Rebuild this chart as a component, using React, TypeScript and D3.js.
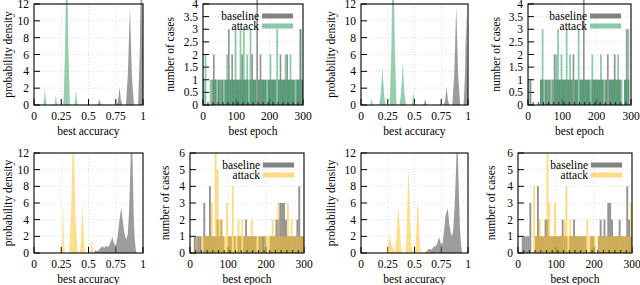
import * as d3 from "d3";

// ---- tick values ----
const ACC_TICKS = [0, 0.25, 0.5, 0.75, 1];
const DENSITY_TICKS = [0, 2, 4, 6, 8, 10, 12];
const EPOCH_TICKS = [0, 100, 200, 300];
const EPOCH_MINOR = [15, 30, 45, 60, 75, 90, 105, 120, 135, 150, 165, 180, 195, 210, 225, 240, 255, 270, 285];
const CASES_TICKS_TOP = [0, 0.5, 1, 1.5, 2, 2.5, 3, 3.5, 4];
const CASES_TICKS_BOTTOM = [0, 1, 2, 3, 4, 5, 6];
const SERIES = ["baseline", "attack"];
const BIN = 5; // epochs per histogram bin, bins start at 0, 5, 10, ... 295

// ---- density curves [accuracy, density] ----
const accBaselineA = [
  [0.58, 0], [0.59, 0.21], [0.6, 0.7], [0.61, 0.21], [0.62, 0],
  [0.76, 0], [0.772, 0.63], [0.785, 2.1], [0.797, 0.63], [0.81, 0],
  [0.843, 0], [0.861, 3.5], [0.88, 11.6], [0.898, 3.5], [0.917, 0],
  [0.955, 0], [0.97, 6], [0.985, 20], [1, 6], [1, 0],
];
const accAttackA = [
  [0.084, 0], [0.092, 0.6], [0.1, 2], [0.108, 0.6], [0.116, 0],
  [0.186, 0], [0.193, 0.33], [0.2, 1.1], [0.207, 0.33], [0.214, 0],
  [0.27, 0], [0.285, 6.6], [0.3, 22], [0.315, 6.6], [0.33, 0],
  [0.369, 0], [0.377, 0.54], [0.385, 1.8], [0.393, 0.54], [0.401, 0],
];
const accBaselineB = [
  [0.58, 0], [0.59, 0.21], [0.6, 0.7], [0.61, 0.21], [0.62, 0],
  [0.775, 0], [0.787, 0.63], [0.8, 2.1], [0.812, 0.63], [0.825, 0],
  [0.853, 0], [0.871, 3.5], [0.89, 11.7], [0.908, 3.5], [0.927, 0],
  [0.959, 0], [0.971, 3.3], [0.984, 11], [0.996, 3.3], [1, 1.5], [1, 0],
];
const accAttackB = [
  [0.086, 0], [0.093, 0.24], [0.1, 0.8], [0.107, 0.24], [0.114, 0],
  [0.17, 0], [0.185, 1.35], [0.2, 4.5], [0.215, 1.35], [0.23, 0],
  [0.268, 0], [0.284, 6.6], [0.3, 22], [0.316, 6.6], [0.332, 0],
  [0.36, 0], [0.375, 1.5], [0.39, 5], [0.405, 1.5], [0.42, 0],
  [0.47, 0], [0.48, 0.42], [0.49, 1.4], [0.5, 0.42], [0.51, 0],
];
const accBaselineC = [
  [0.55, 0], [0.565, 0.4], [0.575, 0.2], [0.59, 0.3], [0.61, 0.6], [0.63, 0.8], [0.645, 0.6],
  [0.66, 0.9], [0.675, 0.7], [0.69, 0.9], [0.705, 1.4], [0.72, 1.9], [0.735, 1.1], [0.75, 0.9],
  [0.765, 1.8], [0.78, 3.5], [0.8, 5.5], [0.815, 3.8], [0.83, 2.4], [0.845, 1.6], [0.86, 2.2],
  [0.872, 5], [0.884, 10], [0.895, 16], [0.906, 10], [0.916, 4], [0.925, 1.5], [0.935, 0.3], [0.94, 0],
];
const accAttackC = [
  [0.254, 0], [0.261, 1.74], [0.268, 5.8], [0.275, 1.74], [0.282, 0],
  [0.32, 0], [0.34, 4.8], [0.36, 16], [0.38, 4.8], [0.4, 0],
  [0.42, 0], [0.432, 1.77], [0.445, 5.9], [0.457, 1.77], [0.47, 0],
  [0.514, 0], [0.522, 0.57], [0.53, 1.9], [0.538, 0.57], [0.546, 0],
];
const accBaselineD = [
  [0.6, 0], [0.62, 0.3], [0.64, 0.5], [0.66, 0.4], [0.675, 0.7], [0.69, 0.8], [0.705, 0.9],
  [0.72, 1.5], [0.73, 1.9], [0.745, 1.2], [0.76, 1.0], [0.775, 2.5], [0.79, 4.5], [0.81, 5.4],
  [0.825, 3.5], [0.845, 2], [0.86, 2.5], [0.875, 5.5], [0.888, 10], [0.9, 15], [0.911, 9],
  [0.925, 3], [0.935, 1], [0.945, 0],
];
const accAttackD = [
  [0.24, 0], [0.25, 0.8], [0.26, 1.6], [0.268, 2], [0.28, 1.3], [0.29, 0.8], [0.3, 0.6], [0.315, 0.3],
  [0.325, 1.2], [0.335, 3], [0.35, 5.6], [0.362, 3], [0.372, 0.9], [0.382, 0.2], [0.39, 0],
  [0.415, 0], [0.425, 2.4], [0.435, 6.4], [0.445, 10.3], [0.455, 6.4], [0.465, 2.4], [0.475, 0.5], [0.49, 0],
  [0.505, 0], [0.515, 2], [0.524, 4.8], [0.532, 6.2], [0.54, 4], [0.55, 1], [0.56, 0],
  [0.6, 0], [0.615, 0.4], [0.62, 0.5], [0.63, 0.2], [0.64, 0],
];

// ---- epoch histograms: counts per 5-epoch bin (60 bins, 0..295) ----
const epochBaselineA = [
  0, 0, 0, 0, 0, 1, 2, 1, 0, 1, 1, 1, 0, 1, 1, 3, 1, 2, 1, 1,
  1, 1, 1, 2, 1, 1, 1, 0, 1, 2, 1, 1, 5, 1, 2, 1, 1, 1, 0, 1,
  1, 1, 1, 1, 0, 1, 2, 1, 1, 1, 2, 1, 1, 1, 1, 0, 1, 1, 3, 1,
];
const epochAttackA = [
  1, 2, 0, 0, 1, 0, 1, 1, 1, 1, 0, 1, 1, 1, 2, 1, 1, 1, 1, 3,
  1, 1, 3, 1, 3, 1, 2, 1, 3, 1, 1, 1, 0, 1, 1, 1, 1, 1, 1, 1,
  2, 1, 1, 1, 3, 1, 1, 1, 1, 2, 1, 1, 2, 1, 1, 1, 1, 1, 3, 1,
];
const epochBaselineB = [
  0, 1, 0, 0, 0, 0, 0, 1, 1, 0, 1, 1, 1, 0, 1, 2, 1, 1, 1, 1,
  1, 1, 1, 1, 1, 1, 2, 1, 1, 0, 1, 1, 5, 1, 1, 1, 0, 1, 1, 1,
  1, 1, 1, 1, 0, 1, 2, 1, 1, 1, 2, 1, 1, 1, 0, 0, 1, 3, 1, 0,
];
const epochAttackB = [
  1, 0, 0, 0, 0, 0, 0, 1, 3, 1, 1, 0, 1, 1, 0, 1, 2, 3, 1, 2,
  1, 1, 3, 1, 2, 1, 0, 1, 1, 3, 1, 1, 1, 1, 1, 1, 1, 2, 1, 1,
  1, 1, 2, 1, 1, 1, 0, 1, 1, 1, 1, 1, 2, 1, 1, 0, 1, 1, 3, 0,
];
const epochBaselineC = [
  0, 0, 1, 1, 1, 1, 0, 3, 1, 1, 4, 1, 1, 1, 2, 1, 2, 1, 0, 0,
  1, 1, 0, 1, 0, 1, 1, 0, 1, 2, 1, 1, 1, 1, 1, 0, 1, 1, 1, 1,
  0, 0, 1, 1, 1, 2, 2, 3, 3, 3, 2, 1, 1, 1, 1, 1, 2, 4, 1, 1,
];
const epochAttackC = [
  0, 0, 0, 1, 0, 0, 1, 1, 1, 1, 1, 3, 1, 6, 5, 2, 2, 1, 1, 3,
  1, 1, 4, 1, 1, 2, 1, 2, 1, 1, 1, 1, 2, 1, 1, 1, 1, 1, 0, 1,
  1, 1, 1, 2, 1, 1, 3, 1, 1, 1, 1, 3, 1, 2, 1, 1, 1, 1, 1, 1,
];
const epochBaselineD = [
  0, 0, 1, 1, 1, 1, 3, 0, 0, 1, 4, 1, 1, 1, 2, 2, 1, 1, 1, 1,
  1, 1, 1, 2, 1, 1, 0, 1, 1, 2, 1, 1, 1, 1, 1, 1, 0, 0, 1, 1,
  0, 0, 1, 2, 1, 2, 1, 3, 3, 2, 1, 1, 1, 2, 1, 1, 1, 4, 2, 1,
];
const epochAttackD = [
  0, 0, 0, 0, 0, 0, 0, 0, 4, 1, 1, 2, 1, 1, 1, 6, 3, 1, 1, 3,
  1, 1, 1, 1, 2, 4, 1, 2, 1, 1, 1, 1, 1, 1, 1, 1, 2, 1, 1, 1,
  1, 0, 1, 1, 1, 1, 1, 1, 1, 1, 1, 1, 1, 1, 1, 1, 1, 1, 1, 3,
];

const GRAY = "#5a5a5a";
const GREEN = "#2a9d5c";
const YELLOW = "#ffbf1f";
const FONT = "'Liberation Serif', 'Times New Roman', serif";
const FS = 11.5;

type Frame = { x0: number; x1: number; y0: number; y1: number; titleX: number };

const PANELS = [
  { kind: "acc", f: { x0: 34, x1: 143, y0: 4, y1: 105, titleX: 8 }, base: accBaselineA, att: accAttackA, color: GREEN },
  { kind: "epoch", f: { x0: 203, x1: 303, y0: 4, y1: 105, titleX: 170 }, base: epochBaselineA, att: epochAttackA, color: GREEN },
  { kind: "acc", f: { x0: 361, x1: 468, y0: 4, y1: 105, titleX: 331 }, base: accBaselineB, att: accAttackB, color: GREEN },
  { kind: "epoch", f: { x0: 528, x1: 631, y0: 4, y1: 105, titleX: 496 }, base: epochBaselineB, att: epochAttackB, color: GREEN },
  { kind: "acc", f: { x0: 34, x1: 143, y0: 153, y1: 253, titleX: 8 }, base: accBaselineC, att: accAttackC, color: YELLOW },
  { kind: "epoch", f: { x0: 190, x1: 304, y0: 153, y1: 253, titleX: 165 }, base: epochBaselineC, att: epochAttackC, color: YELLOW },
  { kind: "acc", f: { x0: 361, x1: 468, y0: 153, y1: 253, titleX: 331 }, base: accBaselineD, att: accAttackD, color: YELLOW },
  { kind: "epoch", f: { x0: 518, x1: 632, y0: 153, y1: 253, titleX: 491 }, base: epochBaselineD, att: epochAttackD, color: YELLOW },
];

const txt = { fontFamily: FONT, fontSize: FS };

const Axes = ({ f, x, y, xTicks, yTicks, xTitle, yTitle }: any) => (
  <g>
    {yTicks.map((t: number) => (
      <g key={"y" + t}>
        {t > yTicks[0] && t < yTicks[yTicks.length - 1] && (
          <line x1={f.x0} x2={f.x1} y1={y(t)} y2={y(t)} stroke="#c8c8c8" strokeWidth={0.6} strokeDasharray="1,2" />
        )}
        <line x1={f.x0} x2={f.x0 + 6} y1={y(t)} y2={y(t)} stroke="#000" strokeWidth={1} />
        <text x={f.x0 - 5} y={y(t)} dy="0.35em" textAnchor="end" style={txt}>
          {String(t)}
        </text>
      </g>
    ))}
    {xTicks.map((t: number) => (
      <g key={"x" + t}>
        {t > xTicks[0] && t < xTicks[xTicks.length - 1] && (
          <line x1={x(t)} x2={x(t)} y1={f.y0} y2={f.y1} stroke="#c8c8c8" strokeWidth={0.6} strokeDasharray="1,2" />
        )}
        <line x1={x(t)} x2={x(t)} y1={f.y1} y2={f.y1 - 6} stroke="#000" strokeWidth={1} />
        <text x={x(t)} y={f.y1 + 15} textAnchor="middle" style={txt}>
          {String(t)}
        </text>
      </g>
    ))}
    <text x={(f.x0 + f.x1) / 2} y={f.y1 + 30} textAnchor="middle" style={txt}>
      {xTitle}
    </text>
    <text
      transform={`translate(${f.titleX},${(f.y0 + f.y1) / 2}) rotate(-90)`}
      dy="0.35em"
      textAnchor="middle"
      style={txt}
    >
      {yTitle}
    </text>
  </g>
);

const Border = ({ f }: { f: Frame }) => (
  <rect x={f.x0} y={f.y0} width={f.x1 - f.x0} height={f.y1 - f.y0} fill="none" stroke="#000" strokeWidth={1.1} />
);

const Clip = ({ id, f }: { id: string; f: Frame }) => {
  const top = f.y0 < 100 ? 0 : f.y0;
  return (
    <clipPath id={id}>
      <rect x={f.x0} y={top} width={f.x1 - f.x0} height={f.y1 - top} />
    </clipPath>
  );
};

const AccPanel = ({ id, f, base, att, color }: any) => {
  const x = d3.scaleLinear().domain([0, 1]).range([f.x0, f.x1]);
  const y = d3.scaleLinear().domain([0, 12]).range([f.y1, f.y0]);
  const area = d3
    .area<number[]>()
    .x((d) => x(d[0]))
    .y0(y(0))
    .y1((d) => y(d[1]));
  return (
    <g>
      <Clip id={id} f={f} />
      <Axes f={f} x={x} y={y} xTicks={ACC_TICKS} yTicks={DENSITY_TICKS} xTitle="best accuracy" yTitle="probability density" />
      <g clipPath={`url(#${id})`}>
        <path d={area(base) || ""} fill={GRAY} fillOpacity={0.6} />
        <path d={area(att) || ""} fill={color} fillOpacity={0.5} />
      </g>
      <Border f={f} />
    </g>
  );
};

const EpochPanel = ({ id, f, base, att, color, yTicks }: any) => {
  const x = d3.scaleLinear().domain([0, 300]).range([f.x0, f.x1]);
  const y = d3.scaleLinear().domain([0, yTicks[yTicks.length - 1]]).range([f.y1, f.y0]);
  const bars = (data: number[], fill: string, op: number) =>
    data.map((c, i) =>
      c > 0 ? (
        <rect
          key={i}
          x={x(i * BIN)}
          width={x((i + 1) * BIN) - x(i * BIN)}
          y={y(c)}
          height={y(0) - y(c)}
          fill={fill}
          fillOpacity={op}
        />
      ) : null
    );
  const lx = f.x1 - 41;
  return (
    <g>
      <Clip id={id} f={f} />
      <Axes f={f} x={x} y={y} xTicks={EPOCH_TICKS} yTicks={yTicks} xTitle="best epoch" yTitle="number of cases" />
      <g clipPath={`url(#${id})`}>
        {bars(base, GRAY, 0.65)}
        {bars(att, color, 0.55)}
      </g>
      {EPOCH_MINOR.map((t) => (
        <line key={t} x1={x(t)} x2={x(t)} y1={f.y1} y2={f.y1 - 3} stroke="#000" strokeWidth={0.8} />
      ))}
      {SERIES.map((s, i) => (
        <g key={s}>
          <text x={lx - 3} y={f.y0 + 12 + i * 10} dy="0.35em" textAnchor="end" style={txt}>
            {s}
          </text>
          <rect x={lx} width={31} y={f.y0 + 9.5 + i * 10} height={5} fill={i === 0 ? GRAY : color} fillOpacity={i === 0 ? 0.75 : 0.55} />
        </g>
      ))}
      <Border f={f} />
    </g>
  );
};

export default function App() {
  return (
    <svg width={640} height={285} style={{ position: "absolute", left: 0, top: 0, background: "#fff" }}>
      {PANELS.map((p, i) =>
        p.kind === "acc" ? (
          <AccPanel key={i} id={"clip" + i} f={p.f} base={p.base} att={p.att} color={p.color} />
        ) : (
          <EpochPanel
            key={i}
            id={"clip" + i}
            f={p.f}
            base={p.base}
            att={p.att}
            color={p.color}
            yTicks={p.f.y0 < 100 ? CASES_TICKS_TOP : CASES_TICKS_BOTTOM}
          />
        )
      )}
    </svg>
  );
}
